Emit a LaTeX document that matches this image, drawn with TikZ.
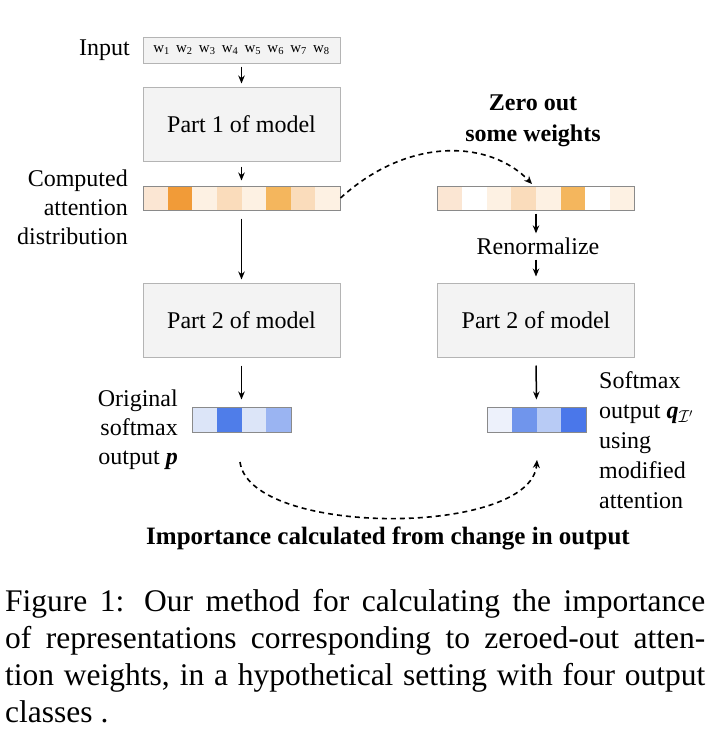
\documentclass[tikz,border=0pt]{standalone}
\usepackage{fontspec}
\setmainfont{Liberation Serif}
\usetikzlibrary{arrows.meta,calc}
\definecolor{boxfill}{HTML}{F3F3F3}
\definecolor{boxline}{HTML}{B4B4B4}
\definecolor{barline}{HTML}{8A8A8A}
\definecolor{oA}{HTML}{FBE6D3}
\definecolor{oB}{HTML}{F19B38}
\definecolor{oC}{HTML}{FDF1E3}
\definecolor{oD}{HTML}{FADCBB}
\definecolor{oE}{HTML}{F4B65D}
\definecolor{bA}{HTML}{DCE5F8}
\definecolor{bB}{HTML}{4F7DE9}
\definecolor{bC}{HTML}{9AB4F2}
\definecolor{bD}{HTML}{EDF1FB}
\definecolor{bE}{HTML}{7095EC}
\definecolor{bF}{HTML}{B8CBF5}
\definecolor{bG}{HTML}{4A77EA}
\begin{document}
\begin{tikzpicture}[x=1pt,y=-1pt,
  modelbox/.style={draw=boxline, fill=boxfill, line width=1pt, minimum width=197pt, minimum height=74pt, inner sep=0pt, font=\fontsize{24}{29}\selectfont},
  barbox/.style={draw=barline, line width=1pt, minimum width=#1, minimum height=24pt, inner sep=0pt},
  arr/.style={-{Stealth[length=8pt,width=6.5pt]}, line width=1.5pt},
  dasharr/.style={-{Stealth[length=8pt,width=7pt]}, line width=1.6pt, dash pattern=on 5pt off 4pt},
  lbl/.style={font=\fontsize{24}{29}\selectfont, inner sep=0pt},
  boldlbl/.style={font=\fontsize{24}{31}\selectfont\bfseries, inner sep=0pt, align=center},
]
\useasboundingbox (0,0) rectangle (720,747);

% input
\node[lbl, anchor=east] (inlbl) at (130,50) {Input};
\node[draw=boxline, fill=boxfill, line width=1pt, minimum width=197pt, minimum height=26pt, inner sep=0pt, font=\fontsize{15}{18}\selectfont] (inp) at (241.5,50)
  {w\textsubscript{1}\, w\textsubscript{2}\, w\textsubscript{3}\, w\textsubscript{4}\, w\textsubscript{5}\, w\textsubscript{6}\, w\textsubscript{7}\, w\textsubscript{8}};

\node[modelbox] (p1) at (241.5,124) {Part 1 of model};

% attention bar (left)
\foreach \c [count=\i from 0] in {oA,oB,oC,oD,oC,oE,oD,oC}
  \fill[\c] (143+\i*24.625,186) rectangle ++(24.625,24);
\node[barbox=197pt] (att) at (241.5,198) {};
\node[lbl, anchor=east, align=right] (attlbl) at (128,207) {Computed\\attention\\distribution};

\node[modelbox] (p2l) at (241.5,320) {Part 2 of model};

% softmax left
\foreach \c [count=\i from 0] in {bA,bB,bA,bC}
  \fill[\c] (192+\i*24.75,407) rectangle ++(24.75,25);
\node[barbox=99pt, minimum height=25pt] (sl) at (241.5,419.5) {};
\node[lbl, anchor=east, align=right] (sllbl) at (178,430) {Original\\softmax\\output \textbf{\textit{p}}};

% right side
\node[boldlbl] (zero) at (533,121) {Zero out\\some weights};
\foreach \c [count=\i from 0] in {oA,white,oC,oD,oC,oE,white,oC}
  \fill[\c] (437.5+\i*24.625,186) rectangle ++(24.625,24);
\node[barbox=197pt] (att2) at (536,198) {};
\node[lbl] (ren) at (538,246) {Renormalize};
\node[modelbox] (p2r) at (536,320) {Part 2 of model};
\foreach \c [count=\i from 0] in {bD,bE,bF,bG}
  \fill[\c] (487+\i*24.75,407) rectangle ++(24.75,25);
\node[barbox=99pt, minimum height=25pt] (sr) at (536.5,419.5) {};
\node[lbl, anchor=west, align=left, font=\fontsize{24}{30}\selectfont] (srlbl) at (599,440) {Softmax\\output \textbf{\textit{q}}$_{\mathcal{I}'}$\\using\\modified\\attention};

% arrows
\draw[arr, shorten <=3pt, shorten >=3pt] (inp.south) -- (p1.north);
\draw[arr, shorten <=5pt, shorten >=5pt] (p1.south) -- (att.north);
\draw[arr, shorten <=8pt, shorten >=3pt] (att.south) -- (p2l.north);
\draw[arr, shorten <=8pt, shorten >=7pt] (p2l.south) -- (sl.north);
\draw[arr, shorten <=3pt, shorten >=4pt] (att2.south) -- (att2.south |- ren.north);
\draw[arr, shorten <=5pt, shorten >=6pt] (att2.south |- ren.south) -- (p2r.north);
\draw[arr, shorten <=8pt, shorten >=7pt] (p2r.south) -- (sr.north);

% dashed connectors
\coordinate (zt) at (532,184);
\draw[dasharr] (att.east) .. controls (410,135) and (491,141) .. (zt);
\coordinate (ps) at (240,462);
\coordinate (pe) at (537,460);
\draw[dasharr] (ps) .. controls (250,537) and (531,537) .. (pe);
\node[boldlbl, font=\fontsize{25}{31}\selectfont\bfseries] (imp) at (388,538) {Importance calculated from change in output};

% caption
\node[anchor=north west, inner sep=0pt, text width=700pt, align=justify, font=\fontsize{31.5}{37}\selectfont] (cap) at (5,589)
  {Figure 1: Our method for calculating the importance\linebreak of representations corresponding to zeroed-out atten-\linebreak{}tion weights, in a hypothetical setting with four output\linebreak classes .};
\end{tikzpicture}
\end{document}
